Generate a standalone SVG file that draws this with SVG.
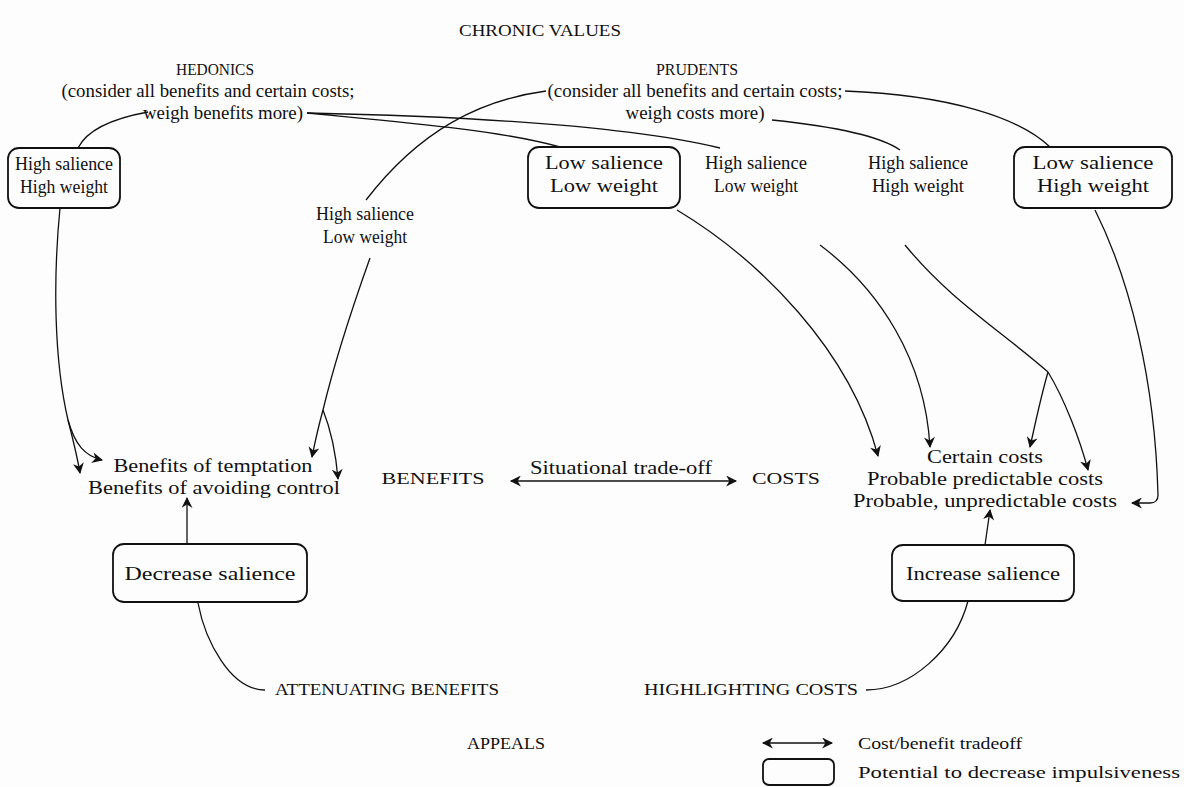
<svg xmlns="http://www.w3.org/2000/svg" width="1184" height="787" viewBox="0 0 1184 787">
  <defs>
    <marker id="arrow" viewBox="0 0 10 10" refX="9" refY="5" markerWidth="13" markerHeight="11" markerUnits="userSpaceOnUse" orient="auto-start-reverse">
      <path d="M0,0 L10,5 L0,10 L3,5 z" fill="#111"/>
    </marker>
    <style>
      text { font-family: "Liberation Serif", "Times New Roman", serif; font-size: 19px; fill: #111; }
      .c { text-anchor: middle; }
      .cap { font-size: 17px; }
      .leg { font-size: 16px; }
      .box { fill: none; stroke: #111; stroke-width: 1.8; }
      .link { fill: none; stroke: #111; stroke-width: 1.3; }
    </style>
  </defs>
  <rect width="1184" height="787" fill="#fdfdfd"/>

  <!-- headings -->
  <g id="title">
    <text class="c cap" x="540" y="36" textLength="162" lengthAdjust="spacingAndGlyphs">CHRONIC VALUES</text>
  </g>
  <g id="hedonics">
    <text class="c cap" x="215" y="75" textLength="78" lengthAdjust="spacingAndGlyphs">HEDONICS</text>
    <text class="c" x="208" y="97" textLength="293" lengthAdjust="spacingAndGlyphs">(consider all benefits and certain costs;</text>
    <text class="c" x="223" y="119" textLength="160" lengthAdjust="spacingAndGlyphs">weigh benefits more)</text>
  </g>
  <g id="prudents">
    <text class="c cap" x="697" y="75" textLength="82" lengthAdjust="spacingAndGlyphs">PRUDENTS</text>
    <text class="c" x="695" y="97" textLength="295" lengthAdjust="spacingAndGlyphs">(consider all benefits and certain costs;</text>
    <text class="c" x="695" y="119" textLength="139" lengthAdjust="spacingAndGlyphs">weigh costs more)</text>
  </g>

  <!-- salience / weight categories -->
  <g id="hs-hw-left">
    <rect class="box" x="8" y="148" width="112" height="60" rx="11"/>
    <text class="c" x="64" y="170" textLength="98" lengthAdjust="spacingAndGlyphs">High salience</text>
    <text class="c" x="64" y="193" textLength="88" lengthAdjust="spacingAndGlyphs">High weight</text>
  </g>
  <g id="hs-lw-left">
    <text class="c" x="365" y="220" textLength="98" lengthAdjust="spacingAndGlyphs">High salience</text>
    <text class="c" x="365" y="243" textLength="84" lengthAdjust="spacingAndGlyphs">Low weight</text>
  </g>
  <g id="ls-lw">
    <rect class="box" x="528" y="147" width="152" height="61" rx="11"/>
    <text class="c" x="604" y="169" textLength="118" lengthAdjust="spacingAndGlyphs">Low salience</text>
    <text class="c" x="604" y="192" textLength="108" lengthAdjust="spacingAndGlyphs">Low weight</text>
  </g>
  <g id="hs-lw-mid">
    <text class="c" x="756" y="169" textLength="102" lengthAdjust="spacingAndGlyphs">High salience</text>
    <text class="c" x="756" y="192" textLength="84" lengthAdjust="spacingAndGlyphs">Low weight</text>
  </g>
  <g id="hs-hw-right">
    <text class="c" x="918" y="169" textLength="100" lengthAdjust="spacingAndGlyphs">High salience</text>
    <text class="c" x="918" y="192" textLength="92" lengthAdjust="spacingAndGlyphs">High weight</text>
  </g>
  <g id="ls-hw">
    <rect class="box" x="1014" y="147" width="158" height="61" rx="11"/>
    <text class="c" x="1093" y="169" textLength="121" lengthAdjust="spacingAndGlyphs">Low salience</text>
    <text class="c" x="1093" y="192" textLength="112" lengthAdjust="spacingAndGlyphs">High weight</text>
  </g>

  <!-- benefits / costs -->
  <g id="benefit-items">
    <text class="c" x="213" y="472" textLength="199" lengthAdjust="spacingAndGlyphs">Benefits of temptation</text>
    <text class="c" x="214" y="494" textLength="252" lengthAdjust="spacingAndGlyphs">Benefits of avoiding control</text>
  </g>
  <g id="benefits">
    <text class="c cap" x="433" y="484" textLength="103" lengthAdjust="spacingAndGlyphs">BENEFITS</text>
  </g>
  <g id="tradeoff">
    <text class="c" x="621" y="474" textLength="182" lengthAdjust="spacingAndGlyphs">Situational trade-off</text>
  </g>
  <g id="costs">
    <text class="c cap" x="786" y="484" textLength="68" lengthAdjust="spacingAndGlyphs">COSTS</text>
  </g>
  <g id="cost-items">
    <text class="c" x="985" y="463" textLength="116" lengthAdjust="spacingAndGlyphs">Certain costs</text>
    <text class="c" x="985" y="485" textLength="236" lengthAdjust="spacingAndGlyphs">Probable predictable costs</text>
    <text class="c" x="985" y="507" textLength="264" lengthAdjust="spacingAndGlyphs">Probable, unpredictable costs</text>
  </g>

  <!-- appeals -->
  <g id="decrease-salience">
    <rect class="box" x="113" y="544" width="194" height="58" rx="11"/>
    <text class="c" x="210" y="580" textLength="171" lengthAdjust="spacingAndGlyphs">Decrease salience</text>
  </g>
  <g id="increase-salience">
    <rect class="box" x="892" y="545" width="182" height="56" rx="11"/>
    <text class="c" x="983" y="580" textLength="154" lengthAdjust="spacingAndGlyphs">Increase salience</text>
  </g>
  <g id="attenuating">
    <text class="c cap" x="387" y="695" textLength="224" lengthAdjust="spacingAndGlyphs">ATTENUATING BENEFITS</text>
  </g>
  <g id="highlighting">
    <text class="c cap" x="751" y="695" textLength="214" lengthAdjust="spacingAndGlyphs">HIGHLIGHTING COSTS</text>
  </g>
  <g id="appeals">
    <text class="c cap" x="506" y="749" textLength="78" lengthAdjust="spacingAndGlyphs">APPEALS</text>
  </g>

  <!-- legend -->
  <g id="legend">
    <line class="link" x1="763" y1="743" x2="832" y2="743" marker-start="url(#arrow)" marker-end="url(#arrow)"/>
    <text class="leg" x="858" y="749" textLength="164" lengthAdjust="spacingAndGlyphs">Cost/benefit tradeoff</text>
    <rect class="box" x="763" y="759" width="71" height="26" rx="6"/>
    <text class="leg" x="858" y="778" textLength="322" lengthAdjust="spacingAndGlyphs">Potential to decrease impulsiveness</text>
  </g>

  <!-- connectors -->
  <g id="connectors">
    <!-- hedonics -->
    <path class="link" d="M148,112 C115,118 88,128 78,148"/>
    <path class="link" d="M307,113 C400,122 500,130 560,147"/>
    <path class="link" d="M307,113 C450,116 620,124 720,148"/>
    <!-- prudents -->
    <path class="link" d="M546,91 C480,100 420,130 366,200"/>
    <path class="link" d="M845,91 C950,95 1020,118 1050,147"/>
    <path class="link" d="M772,120 C830,126 880,136 900,150"/>

    <!-- into benefits -->
    <path class="link" d="M60,208 C53,280 54,360 68,420"/>
    <path class="link" d="M68,420 C73,440 77,455 80,473" marker-end="url(#arrow)"/>
    <path class="link" d="M68,420 C75,445 85,456 102,460" marker-end="url(#arrow)"/>
    <path class="link" d="M370,258 C355,300 335,360 323,410"/>
    <path class="link" d="M323,410 C318,428 315,442 312,457" marker-end="url(#arrow)"/>
    <path class="link" d="M323,410 C331,430 336,455 338,479" marker-end="url(#arrow)"/>

    <!-- into costs -->
    <path class="link" d="M677,210 C760,260 850,350 878,456" marker-end="url(#arrow)"/>
    <path class="link" d="M820,245 C880,290 925,360 930,447" marker-end="url(#arrow)"/>
    <path class="link" d="M905,245 C950,300 1000,330 1048,372"/>
    <path class="link" d="M1048,372 C1040,400 1035,425 1030,447" marker-end="url(#arrow)"/>
    <path class="link" d="M1048,372 C1065,400 1080,440 1088,470" marker-end="url(#arrow)"/>
    <path class="link" d="M1095,210 C1130,280 1155,380 1158,495 Q1158,503 1150,503 L1132,503" marker-end="url(#arrow)"/>

    <!-- situational trade-off -->
    <line class="link" x1="511" y1="481" x2="736" y2="481" marker-start="url(#arrow)" marker-end="url(#arrow)"/>

    <!-- appeals -->
    <path class="link" d="M187,543 L187,498" marker-end="url(#arrow)"/>
    <path class="link" d="M198,603 C205,640 230,690 265,690"/>
    <path class="link" d="M866,690 C910,690 955,650 968,601"/>
    <path class="link" d="M985,545 L990,510" marker-end="url(#arrow)"/>
  </g>
</svg>
